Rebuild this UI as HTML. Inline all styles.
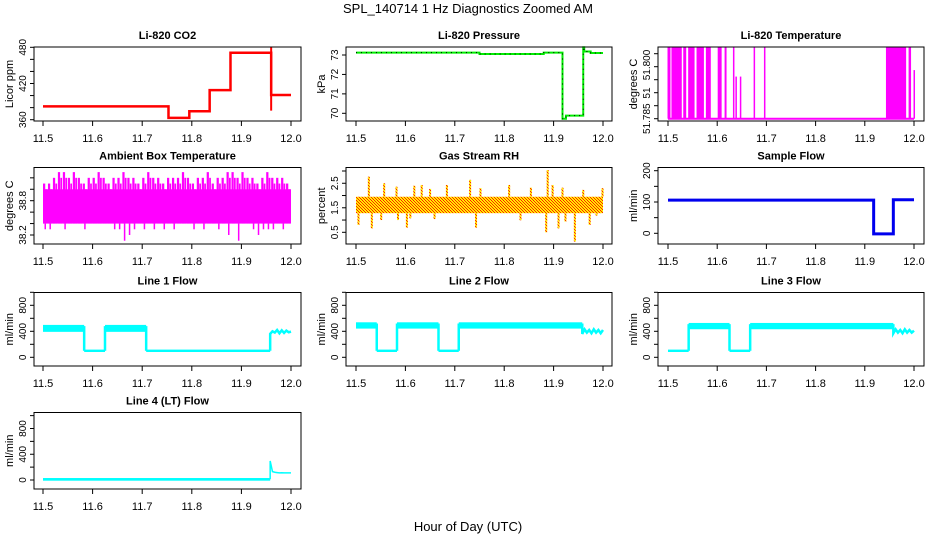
<!DOCTYPE html>
<html><head><meta charset="utf-8"><style>
body{margin:0;background:#fff}
svg{display:block;font-family:"Liberation Sans",Arial,sans-serif}
</style></head><body>
<svg id="chart" width="936" height="540" viewBox="0 0 936 540" xmlns="http://www.w3.org/2000/svg">
<defs>
<pattern id="rhpat" width="3" height="3" patternUnits="userSpaceOnUse">
<rect width="3" height="3" fill="#ffee00"/><rect width="1" height="1" fill="#ff2000"/><rect x="1" y="1" width="1" height="1" fill="#ff2000"/><rect x="2" y="2" width="1" height="1" fill="#ff2000"/>
</pattern>
</defs>
<text x="468" y="13" font-size="13" text-anchor="middle">SPL_140714  1 Hz Diagnostics Zoomed AM</text>
<text x="468" y="531" font-size="13" text-anchor="middle">Hour of Day (UTC)</text>
</svg>
<script>
// ---- data ----
const xTicks = [11.5,11.6,11.7,11.8,11.9,12.0];
const co2Times = [11.5,11.753,11.795,11.836,11.878,11.96,12.0];
const co2Values = [382,363,374,409,471,401];
const co2Spike = [375,481];
const presTimes = [11.5,11.75,11.88,11.918,11.925,11.96,11.962,11.975,12.0];
const presValues = [73.12,73.05,73.12,69.72,69.88,73.4,73.18,73.1];
const tempLow = 51.785;
const tempBlockStart = [11.499,11.507,11.531,11.541,11.558,11.577,11.601,11.615,11.632,11.637,11.646,11.674,11.695,11.943,11.989,11.999];
const tempBlockEnd   = [11.505,11.528,11.537,11.554,11.573,11.587,11.609,11.619,11.634,11.638,11.647,11.677,11.698,11.984,11.994,12.001];
const tempBlockTop   = [51.8125,51.8125,51.8125,51.8125,51.8125,51.8125,51.8125,51.8125,51.8125,51.8012,51.8012,51.8125,51.8125,51.8125,51.8125,51.8037];
const ambMax = [39.1,39.1,39.2,39.3,39.3,39.2,39.3,39.2,39.1,39.2,39.2,39.3,39.2,39.1,39.2,39.2,39.3,39.2,39.2,39.1,39.2,39.3,39.2,39.2,39.1,39.2,39.2,39.2,39.3,39.2,39.1,39.2,39.2,39.3,39.1,39.2,39.2,39.3,39.3,39.2,39.3,39.2,39.2,39.1,39.2,39.3,39.2,39.2,39.2,39.1];
const ambMin = [38.3,38.3,38.4,38.4,38.3,38.4,38.4,38.4,38.3,38.4,38.4,38.4,38.4,38.4,38.3,38.3,38.1,38.2,38.3,38.4,38.3,38.4,38.3,38.4,38.3,38.4,38.3,38.4,38.4,38.4,38.3,38.4,38.3,38.4,38.4,38.3,38.4,38.2,38.4,38.1,38.4,38.4,38.3,38.2,38.3,38.3,38.3,38.4,38.3,38.4];
const ambCore = [38.4,39.0];
const rhCore = [1.28,1.95];
const rhUpHours = [11.526,11.557,11.582,11.618,11.633,11.650,11.684,11.731,11.752,11.810,11.854,11.888,11.898,11.918,11.960,11.999];
const rhUpValues = [2.77,2.5,2.36,2.4,2.43,2.27,2.43,2.64,2.3,2.43,2.32,3.04,2.43,2.32,2.23,2.3];
const rhDownHours = [11.505,11.532,11.551,11.585,11.603,11.61,11.659,11.743,11.833,11.885,11.910,11.924,11.943,11.973,11.987];
const rhDownValues = [0.8,0.66,1.0,1.0,0.69,1.07,1.04,0.69,0.99,0.5,0.66,0.94,0.12,0.8,1.18];
const sfTimes = [11.5,11.918,11.958,12.0];
const sfValues = [106,-2,107];
const l1Times = [11.5,11.583,11.625,11.708,11.958];
const l1Hi = [480,100,480,100];
const l1Lo = [410,100,410,100];
const l2Times = [11.5,11.542,11.583,11.667,11.708,11.958];
const l2Hi = [520,100,520,100,520];
const l2Lo = [460,100,460,100,460];
const l3Times = [11.5,11.542,11.625,11.667,11.958];
const l3Hi = [100,510,100,510];
const l3Lo = [100,450,100,450];
const l4Times = [11.5,11.958];
const l4Hi = [12];
const l4Lo = [8];
const l1Tail = [360,400,380,420,370,415,375,410,385,395];
const l2Tail = [360,430,380,420,370,430,380,420,370,420];
const l3Tail = [370,430,380,420,370,430,380,420,380,410];
const l4Tail = [296,130,120,115,110,112,110,110,110,110];

// ---- helpers ----
const svg = document.getElementById('chart');
const NS = 'http://www.w3.org/2000/svg';
function mk(tag, attrs, parent){const e=document.createElementNS(NS,tag);for(const k in attrs)e.setAttribute(k,attrs[k]);(parent||svg).appendChild(e);return e;}
const colX = [[43,291],[356,603],[668,914]];
const colBox = [[34,301],[346,612],[658,924]];

function panel(o){
  const g = mk('g',{});
  
  
  const [bx0,bx1]=colBox[o.col]; const [by0,by1]=o.by;
  const X = h => colX[o.col][0]+(h-11.5)/0.5*(colX[o.col][1]-colX[o.col][0]);
  const Y = v => o.ym[1]+(v-o.ym[0])/(o.ym[2]-o.ym[0])*(o.ym[3]-o.ym[1]);
  const plot = mk('g',{},g);
  
  
  o.draw(plot,X,Y);
  const box = mk('rect',{x:bx0,y:by0,width:bx1-bx0,height:by1-by0,fill:'none',stroke:'#000','stroke-width':1},g);
  
  
  const t = mk('text',{x:(bx0+bx1)/2,y:by0-8,'font-size':11,'font-weight':'bold','text-anchor':'middle'},g);
  t.textContent=o.title;
  
  
  const xa = mk('g',{},g);
  
  
  xTicks.forEach(h=>{
    mk('line',{x1:X(h),x2:X(h),y1:by1,y2:by1+5,stroke:'#000'},xa);
    const tl = mk('text',{x:X(h),y:by1+21,'font-size':11,'text-anchor':'middle'},xa);
    tl.textContent=h.toFixed(1);
  });
  const ya = mk('g',{},g);
  
  
  o.yticks.forEach(v=>mk('line',{x1:bx0-4,x2:bx0,y1:Y(v),y2:Y(v),stroke:'#000'},ya));
  o.ylabels.forEach(l=>{
    const yy = l.y!==undefined ? l.y : Y(l.v);
    const tl = mk('text',{x:bx0-8,y:yy,'font-size':10,'text-anchor':'middle',transform:`rotate(-90 ${bx0-8} ${yy})`},ya);
    tl.textContent=l.t;
  });
  const yl = mk('text',{x:bx0-21,y:(by0+by1)/2,'font-size':11,'text-anchor':'middle',transform:`rotate(-90 ${bx0-21} ${(by0+by1)/2})`},g);
  yl.textContent=o.ylab;
  
  
}
function range(a,b,s){const r=[];for(let v=a;v<=b+1e-9;v+=s)r.push(+v.toFixed(4));return r;}
function stepPath(times,vals,X,Y){let d=`M${X(times[0])},${Y(vals[0])}`;for(let i=0;i<vals.length;i++){d+=` L${X(times[i])},${Y(vals[i])} L${X(times[i+1])},${Y(vals[i])}`;}return d;}
function flowDraw(times,hi,lo,tail,thickTail){
  return (p,X,Y)=>{
    for(let i=0;i<hi.length;i++){
      const y0=Y(hi[i]),y1=Y(lo[i]);
      mk('rect',{x:X(times[i]),y:Math.min(y0,y1)-1.2,width:X(times[i+1])-X(times[i]),height:Math.abs(y1-y0)+2.4,fill:'#00ffff'},p);
      if(i>0){mk('line',{x1:X(times[i]),x2:X(times[i]),y1:Y(hi[i-1]),y2:Y(hi[i]),stroke:'#00ffff','stroke-width':2.5},p);}
    }
    const t0=times[times.length-1];
    let d=`M${X(t0)},${Y(hi[hi.length-1])}`;
    tail.forEach((v,i)=>{d+=` L${X(t0+(12-t0)*i/(tail.length-1))},${Y(v)}`;});
    mk('path',{d:d,fill:'none',stroke:'#00ffff','stroke-width':thickTail?2.5:1.5},p);
  };
}
const flowTicks = range(0,1000,200);
const flowLabels = [{v:0,t:'0'},{v:400,t:'400'},{v:800,t:'800'}];

panel({name:'co2-panel',title:'Li-820 CO2',col:0,by:[47,121],ym:[360,119.7,480,47.3],ylab:'Licor ppm',
  yticks:range(360,480,20),ylabels:[{v:360,t:'360'},{v:420,t:'420'},{v:480,t:'480'}],
  draw:(p,X,Y)=>{
    mk('path',{d:stepPath(co2Times,co2Values,X,Y),fill:'none',stroke:'#ff0000','stroke-width':2.5},p);
    mk('line',{x1:X(co2Times[5]),x2:X(co2Times[5]),y1:Y(co2Spike[0]),y2:Y(co2Spike[1]),stroke:'#ff0000','stroke-width':2},p);
  }});
panel({name:'pressure-panel',title:'Li-820 Pressure',col:1,by:[47,121],ym:[70,113.3,73,55],ylab:'kPa',
  yticks:[70,71,72,73],ylabels:[{v:70,t:'70'},{v:71,t:'71'},{v:72,t:'72'},{v:73,t:'73'}],
  draw:(p,X,Y)=>{
    const d=stepPath(presTimes,presValues,X,Y);
    mk('path',{d:d,fill:'none',stroke:'#00ee00','stroke-width':2},p);
    mk('path',{d:d,fill:'none',stroke:'#000','stroke-width':1,'stroke-dasharray':'1 4'},p);
  }});
panel({name:'licor-temperature-panel',title:'Li-820 Temperature',col:2,by:[47,121],ym:[51.785,118.7,51.81,53.7],ylab:'degrees C',
  yticks:range(51.785,51.81,0.005),ylabels:[{v:51.785,t:'51.785'},{y:93,t:'51'},{y:65,t:'51.800'}],
  draw:(p,X,Y)=>{
    mk('line',{x1:X(11.5),x2:X(12.0),y1:Y(tempLow),y2:Y(tempLow),stroke:'#ff00ff','stroke-width':2},p);
    tempBlockStart.forEach((s,i)=>{
      const x0=X(s),x1=X(tempBlockEnd[i]);
      mk('rect',{x:x0,y:Y(tempBlockTop[i]),width:Math.max(x1-x0,1.5),height:Y(tempLow)-Y(tempBlockTop[i]),fill:'#ff00ff'},p);
    });
  }});
panel({name:'ambient-temperature-panel',title:'Ambient Box Temperature',col:0,by:[167.5,244],ym:[38.2,235,38.8,200.7],ylab:'degrees C',
  yticks:range(38.2,39.2,0.2),ylabels:[{v:38.2,t:'38.2'},{v:38.8,t:'38.8'}],
  draw:(p,X,Y)=>{
    const n=ambMax.length, w=0.5/n;
    mk('rect',{x:X(11.5),y:Y(ambCore[1]),width:X(12)-X(11.5),height:Y(ambCore[0])-Y(ambCore[1]),fill:'#ff00ff'},p);
    ambMax.forEach((v,i)=>{
      const h0=11.5+i*w;
      mk('rect',{x:X(h0),y:Y(v),width:(X(h0+w)-X(h0))*0.45,height:Y(ambCore[0])-Y(v),fill:'#ff00ff'},p);
      mk('rect',{x:X(h0+w*0.5),y:Y(v-0.1),width:(X(h0+w)-X(h0))*0.35,height:Y(ambCore[0])-Y(v-0.1),fill:'#ff00ff'},p);
      mk('rect',{x:X(h0+w*0.3),y:Y(ambCore[0]),width:1.5,height:Y(ambMin[i])-Y(ambCore[0]),fill:'#ff00ff'},p);
    });
  }});
panel({name:'gas-stream-rh-panel',title:'Gas Stream RH',col:1,by:[167.5,244],ym:[0.5,232.3,3.0,171],ylab:'percent',
  yticks:range(0.5,3.0,0.5),ylabels:[{v:0.5,t:'0.5'},{v:1.5,t:'1.5'},{v:2.5,t:'2.5'}],
  draw:(p,X,Y)=>{
    mk('rect',{x:X(11.5),y:Y(rhCore[1]),width:X(12)-X(11.5),height:Y(rhCore[0])-Y(rhCore[1]),fill:'url(#rhpat)'},p);
    rhUpHours.forEach((h,i)=>mk('rect',{x:X(h)-1,y:Y(rhUpValues[i]),width:2,height:Y(rhCore[1])-Y(rhUpValues[i]),fill:'url(#rhpat)'},p));
    rhDownHours.forEach((h,i)=>mk('rect',{x:X(h)-1,y:Y(rhCore[0]),width:2,height:Y(rhDownValues[i])-Y(rhCore[0]),fill:'url(#rhpat)'},p));
  }});
panel({name:'sample-flow-panel',title:'Sample Flow',col:2,by:[167.5,244],ym:[0,233.3,200,170.7],ylab:'ml/min',
  yticks:range(0,200,50),ylabels:[{v:0,t:'0'},{v:100,t:'100'},{v:200,t:'200'}],
  draw:(p,X,Y)=>{
    mk('path',{d:stepPath(sfTimes,sfValues,X,Y),fill:'none',stroke:'#0000ee','stroke-width':3},p);
  }});
panel({name:'line1-flow-panel',title:'Line 1 Flow',col:0,by:[292.5,366],ym:[0,357.3,800,305.3],ylab:'ml/min',
  yticks:flowTicks,ylabels:flowLabels,draw:flowDraw(l1Times,l1Hi,l1Lo,l1Tail,true)});
panel({name:'line2-flow-panel',title:'Line 2 Flow',col:1,by:[292.5,366],ym:[0,357.3,800,305.3],ylab:'ml/min',
  yticks:flowTicks,ylabels:flowLabels,draw:flowDraw(l2Times,l2Hi,l2Lo,l2Tail,true)});
panel({name:'line3-flow-panel',title:'Line 3 Flow',col:2,by:[292.5,366],ym:[0,357.3,800,305.3],ylab:'ml/min',
  yticks:flowTicks,ylabels:flowLabels,draw:flowDraw(l3Times,l3Hi,l3Lo,l3Tail,true)});
panel({name:'line4-flow-panel',title:'Line 4 (LT) Flow',col:0,by:[412.5,489],ym:[0,480,800,428.5],ylab:'ml/min',
  yticks:flowTicks,ylabels:flowLabels,draw:flowDraw(l4Times,l4Hi,l4Lo,l4Tail,false)});
</script>
</body></html>
